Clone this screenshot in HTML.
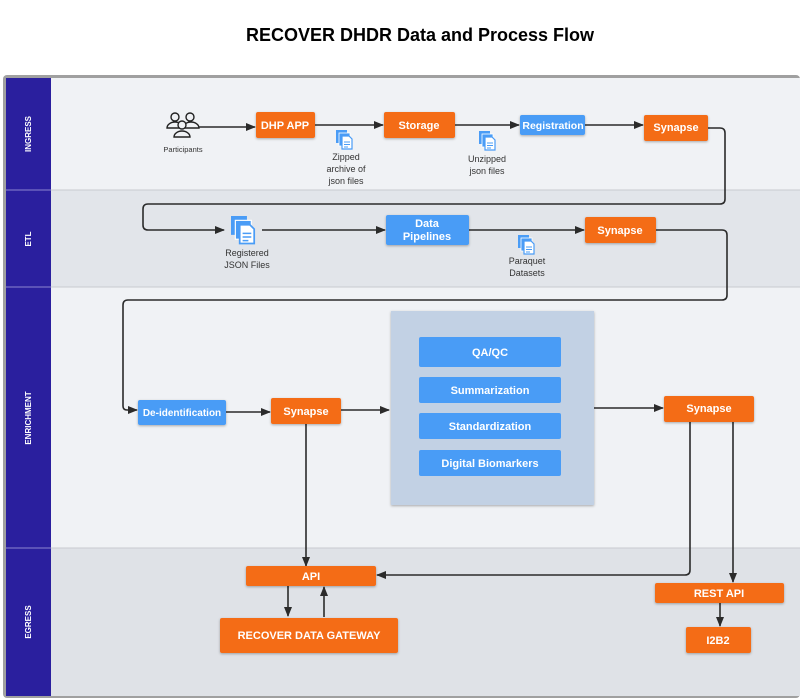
<!DOCTYPE html>
<html><head><meta charset="utf-8"><style>
html,body{margin:0;padding:0;background:#fff;}
svg{display:block;font-family:"Liberation Sans",sans-serif;}
.o{fill:#f46c17;}
.b{fill:#4a9cf6;}
.t{fill:#fff;font-weight:bold;font-size:11px;text-anchor:middle;}
.s{fill:#333;font-size:9px;text-anchor:middle;}
.l{stroke:#2b2b2b;stroke-width:1.6;fill:none;}
.lane{fill:#fff;font-weight:bold;font-size:8px;text-anchor:middle;}
</style></head><body>
<svg width="800" height="699" viewBox="0 0 800 699">
<defs>
<marker id="a" markerWidth="10" markerHeight="8" refX="9" refY="4" orient="auto" markerUnits="userSpaceOnUse"><path d="M0,0 L10,4 L0,8 z" fill="#2b2b2b"/></marker>
<filter id="sh" x="-20%" y="-20%" width="140%" height="150%"><feDropShadow dx="0" dy="1" stdDeviation="1.2" flood-opacity="0.3"/></filter>
<g id="doc"><rect x="0" y="0" width="11" height="13" fill="#4a9cf6"/><rect x="3" y="3" width="11" height="13" fill="#4a9cf6" stroke="#fff" stroke-width="0.8"/><path d="M6,6 h7 l3,3 v10 h-10 z" fill="#fff" stroke="#4a9cf6" stroke-width="1.2"/><path d="M8,12 h6 M8,14.5 h6 M8,17 h4" stroke="#4a9cf6" stroke-width="1"/></g>
</defs>
<text x="420" y="41" text-anchor="middle" font-size="18" font-weight="bold" fill="#000">RECOVER DHDR Data and Process Flow</text>
<rect x="3" y="75" width="797" height="623" rx="4" fill="#a0a0a0"/>
<rect x="51" y="78" width="749" height="112" fill="#f0f2f5"/>
<rect x="51" y="190" width="749" height="97" fill="#e2e5ea"/>
<rect x="51" y="287" width="749" height="261" fill="#f0f2f5"/>
<rect x="51" y="548" width="749" height="148" fill="#dfe2e7"/>
<path d="M51 190H800M51 287H800M51 548H800" stroke="#c8cbd0" stroke-width="1"/>
<rect x="6" y="78" width="45" height="618" fill="#2a1f9e"/>
<path d="M6 190H51M6 287H51M6 548H51" stroke="#8c86d0" stroke-width="1"/>
<text class="lane" transform="translate(31,134) rotate(-90)">INGRESS</text>
<text class="lane" transform="translate(31,239) rotate(-90)">ETL</text>
<text class="lane" transform="translate(31,418) rotate(-90)">ENRICHMENT</text>
<text class="lane" transform="translate(31,622) rotate(-90)">EGRESS</text>

<!-- participants icon -->
<g stroke="#222" stroke-width="1.4" fill="none">
<circle cx="175" cy="117" r="4"/><path d="M167,128 a8,6 0 0 1 16,0 z"/>
<circle cx="190" cy="117" r="4"/><path d="M183,128 a8,6 0 0 1 16,0 h-16"/>
<circle cx="182" cy="125" r="4" fill="#f0f2f5"/><path d="M174,137 a8,6 0 0 1 16,0 z" fill="#f0f2f5"/>
</g>
<text x="183" y="152" font-size="7.5" text-anchor="middle" fill="#333">Participants</text>

<!-- connectors -->
<path class="l" d="M199,127 H255" marker-end="url(#a)"/>
<path class="l" d="M315,125 H383" marker-end="url(#a)"/>
<path class="l" d="M455,125 H519" marker-end="url(#a)"/>
<path class="l" d="M585,125 H643" marker-end="url(#a)"/>
<path class="l" d="M708,128 H720 q5,0 5,5 V199 q0,5 -5,5 H148 q-5,0 -5,5 V225 q0,5 5,5 H224" marker-end="url(#a)"/>
<path class="l" d="M262,230 H385" marker-end="url(#a)"/>
<path class="l" d="M469,230 H584" marker-end="url(#a)"/>
<path class="l" d="M656,230 H722 q5,0 5,5 V295 q0,5 -5,5 H128 q-5,0 -5,5 V406 q0,4 4,4 H137" marker-end="url(#a)"/>
<path class="l" d="M226,412 H270" marker-end="url(#a)"/>
<path class="l" d="M341,410 H389" marker-end="url(#a)"/>
<path class="l" d="M594,408 H663" marker-end="url(#a)"/>
<path class="l" d="M306,424 V566" marker-end="url(#a)"/>
<path class="l" d="M690,422 V570 q0,5 -5,5 H377" marker-end="url(#a)"/>
<path class="l" d="M733,422 V582" marker-end="url(#a)"/>
<path class="l" d="M288,586 V616" marker-end="url(#a)"/>
<path class="l" d="M324,617 V587" marker-end="url(#a)"/>
<path class="l" d="M720,603 V626" marker-end="url(#a)"/>

<!-- doc icons -->
<use href="#doc" x="336" y="130"/>
<text class="s" x="346" y="160">Zipped</text><text class="s" x="346" y="172">archive of</text><text class="s" x="346" y="184">json files</text>
<use href="#doc" x="479" y="131"/>
<text class="s" x="487" y="162">Unzipped</text><text class="s" x="487" y="174">json files</text>
<g transform="translate(231,216) scale(1.45)"><use href="#doc"/></g>
<text class="s" x="247" y="256">Registered</text><text class="s" x="247" y="268">JSON Files</text>
<use href="#doc" x="518" y="235"/>
<text class="s" x="527" y="264">Paraquet</text><text class="s" x="527" y="276">Datasets</text>

<!-- nodes -->
<g filter="url(#sh)">
<rect class="o" x="256" y="112" width="59" height="26" rx="2"/>
<rect class="o" x="384" y="112" width="71" height="26" rx="2"/>
<rect class="b" x="520" y="115" width="65" height="20" rx="2"/>
<rect class="o" x="644" y="115" width="64" height="26" rx="2"/>
<rect class="b" x="386" y="215" width="83" height="30" rx="2"/>
<rect class="o" x="585" y="217" width="71" height="26" rx="2"/>
<rect class="b" x="138" y="400" width="88" height="25" rx="2"/>
<rect class="o" x="271" y="398" width="70" height="26" rx="2"/>
<rect x="391" y="311" width="203" height="194" fill="#c2d1e4"/>
<rect class="b" x="419" y="337" width="142" height="30" rx="2"/>
<rect class="b" x="419" y="377" width="142" height="26" rx="2"/>
<rect class="b" x="419" y="413" width="142" height="26" rx="2"/>
<rect class="b" x="419" y="450" width="142" height="26" rx="2"/>
<rect class="o" x="664" y="396" width="90" height="26" rx="2"/>
<rect class="o" x="246" y="566" width="130" height="20" rx="2"/>
<rect class="o" x="220" y="618" width="178" height="35" rx="2"/>
<rect class="o" x="655" y="583" width="129" height="20" rx="2"/>
<rect class="o" x="686" y="627" width="65" height="26" rx="2"/>
</g>
<text class="t" x="285" y="129">DHP APP</text>
<text class="t" x="419" y="129">Storage</text>
<text class="t" x="553" y="129" style="font-size:10.5px">Registration</text>
<text class="t" x="676" y="131">Synapse</text>
<text class="t" x="427" y="227">Data</text><text class="t" x="427" y="240">Pipelines</text>
<text class="t" x="620" y="234">Synapse</text>
<text class="t" x="182" y="416" style="font-size:10px">De-identification</text>
<text class="t" x="306" y="415">Synapse</text>
<text class="t" x="490" y="356">QA/QC</text>
<text class="t" x="490" y="394">Summarization</text>
<text class="t" x="490" y="430">Standardization</text>
<text class="t" x="490" y="467">Digital Biomarkers</text>
<text class="t" x="709" y="412">Synapse</text>
<text class="t" x="311" y="580">API</text>
<text class="t" x="309" y="639">RECOVER DATA GATEWAY</text>
<text class="t" x="719" y="597">REST API</text>
<text class="t" x="718" y="644">I2B2</text>
</svg>
</body></html>
